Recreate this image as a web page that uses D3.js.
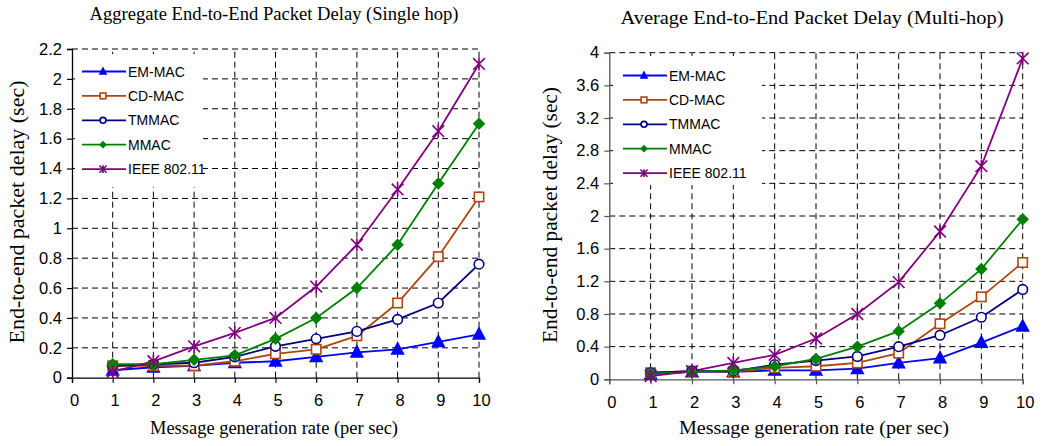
<!DOCTYPE html>
<html>
<head>
<meta charset="utf-8">
<script src="https://cdn.jsdelivr.net/npm/d3@7"></script>
<style>
  body { margin: 0; background: #fff; }
  svg { display: block; }
  .tick text { font-family: "Liberation Sans", Arial, sans-serif; }
</style>
</head>
<body>
<svg id="chart" width="1043" height="446"></svg>
<script>
// x axis: message generation rate
const rates = [1, 2, 3, 4, 5, 6, 7, 8, 9, 10];
const xTicks = [0, 1, 2, 3, 4, 5, 6, 7, 8, 9, 10];

const seriesNames = ["EM-MAC", "CD-MAC", "TMMAC", "MMAC", "IEEE 802.11"];

// single hop delays (sec)
const singleEM   = [0.05, 0.07, 0.08, 0.10, 0.11, 0.14, 0.17, 0.19, 0.24, 0.29];
const singleCD   = [0.08, 0.08, 0.08, 0.11, 0.16, 0.19, 0.28, 0.50, 0.81, 1.21];
const singleTM   = [0.08, 0.09, 0.10, 0.14, 0.21, 0.26, 0.31, 0.39, 0.50, 0.76];
const singleMM   = [0.09, 0.09, 0.12, 0.15, 0.26, 0.40, 0.60, 0.89, 1.30, 1.70];
const singleIEEE = [0.04, 0.11, 0.21, 0.30, 0.40, 0.61, 0.89, 1.26, 1.65, 2.10];
const singleTicks = [0, 0.2, 0.4, 0.6, 0.8, 1, 1.2, 1.4, 1.6, 1.8, 2, 2.2];

// multi hop delays (sec)
const multiEM   = [0.06, 0.09, 0.09, 0.11, 0.11, 0.13, 0.20, 0.26, 0.45, 0.65];
const multiCD   = [0.08, 0.10, 0.09, 0.14, 0.16, 0.20, 0.32, 0.68, 1.01, 1.43];
const multiTM   = [0.08, 0.10, 0.10, 0.18, 0.23, 0.28, 0.40, 0.54, 0.76, 1.10];
const multiMM   = [0.07, 0.09, 0.11, 0.16, 0.25, 0.40, 0.59, 0.93, 1.35, 1.96];
const multiIEEE = [0.04, 0.10, 0.20, 0.30, 0.50, 0.80, 1.19, 1.81, 2.61, 3.93];
const multiTicks = [0, 0.4, 0.8, 1.2, 1.6, 2, 2.4, 2.8, 3.2, 3.6, 4];

const colors = ["#0000ff", "#b0460f", "#000080", "#008000", "#800080"];
const markers = ["triangle", "square", "circle", "diamond", "star"];

const svg = d3.select("#chart");
const serif = "Liberation Serif, Times New Roman, serif";

function drawMarker(g, type, color, s) {
  if (type === "triangle") {
    g.append("path").attr("d", `M0,${-s * 0.62}L${s * 0.55},${s * 0.42}L${-s * 0.55},${s * 0.42}Z`)
      .attr("fill", color);
  } else if (type === "square") {
    const h = s * 0.36;
    g.append("rect").attr("x", -h).attr("y", -h).attr("width", 2 * h).attr("height", 2 * h)
      .attr("fill", "#fff").attr("stroke", color).attr("stroke-width", 1.6);
  } else if (type === "circle") {
    g.append("circle").attr("r", s * 0.37)
      .attr("fill", "#fff").attr("stroke", color).attr("stroke-width", 1.6);
  } else if (type === "diamond") {
    const h = s * 0.48;
    g.append("path").attr("d", `M0,${-h}L${h},0L0,${h}L${-h},0Z`).attr("fill", color);
  } else if (type === "star") {
    const h = s * 0.45;
    g.append("path")
      .attr("d", `M${-h},${-h}L${h},${h}M${h},${-h}L${-h},${h}M0,${-h * 1.1}L0,${h * 1.1}`)
      .attr("stroke", color).attr("stroke-width", 1.6).attr("fill", "none");
  }
}

function label(g, x, y, str, size, len, rot) {
  g.append("text")
    .attr("transform", `translate(${x},${y})` + (rot ? " rotate(-90)" : ""))
    .attr("text-anchor", "middle")
    .attr("font-family", serif).attr("font-size", size)
    .attr("textLength", len).attr("lengthAdjust", "spacingAndGlyphs")
    .text(str);
}

function drawChart(cfg) {
  const x = d3.scaleLinear().domain([0, 10]).range([cfg.left, cfg.right]);
  const y = d3.scaleLinear().domain([0, cfg.yMax]).range([cfg.bottom, cfg.top]);
  const g = svg.append("g");

  // dashed grid
  g.append("g").selectAll("line").data(cfg.yTicks.slice(1)).join("line")
    .attr("x1", cfg.left).attr("x2", cfg.right)
    .attr("y1", d => y(d)).attr("y2", d => y(d))
    .attr("stroke", "#000").attr("stroke-dasharray", "6,4");
  g.append("g").selectAll("line").data(xTicks.slice(1)).join("line")
    .attr("x1", d => x(d)).attr("x2", d => x(d))
    .attr("y1", cfg.bottom).attr("y2", cfg.top)
    .attr("stroke", "#000").attr("stroke-dasharray", "6,4");

  // legend background covers the grid
  g.append("rect").attr("x", cfg.legend.x0).attr("y", cfg.legend.y0)
    .attr("width", cfg.legend.x1 - cfg.legend.x0).attr("height", cfg.legend.y1 - cfg.legend.y0)
    .attr("fill", "#fff");

  // axes
  const yAxis = g.append("g").attr("transform", `translate(${cfg.left},0)`)
    .call(d3.axisLeft(y).tickValues(cfg.yTicks).tickFormat(d3.format("~g")).tickSizeOuter(0).tickSize(5).tickPadding(5));
  const xAxis = g.append("g").attr("transform", `translate(0,${cfg.bottom})`)
    .call(d3.axisBottom(x).tickValues(xTicks).tickFormat(d3.format("d")).tickSizeOuter(0).tickSize(5).tickPadding(12));
  [yAxis, xAxis].forEach(a => {
    a.select(".domain").attr("stroke", cfg.axisColor).attr("stroke-width", 1.3);
    a.selectAll(".tick line").attr("stroke", cfg.axisColor).attr("stroke-width", 1.2);
    a.selectAll(".tick text").attr("font-size", 16.5).attr("fill", "#000");
  });
  xAxis.selectAll(".tick text").attr("dx", 2);

  // series
  const line = d3.line().x((d, i) => x(rates[i])).y(d => y(d));
  cfg.series.forEach((vals, k) => {
    g.append("path").datum(vals).attr("d", line)
      .attr("fill", "none").attr("stroke", colors[k]).attr("stroke-width", 1.8);
  });
  cfg.series.forEach((vals, k) => {
    vals.forEach((v, i) => {
      const m = g.append("g").attr("transform", `translate(${x(rates[i])},${y(v)})`);
      drawMarker(m, markers[k], colors[k], 13);
    });
  });

  // legend
  seriesNames.forEach((name, k) => {
    const ly = cfg.legend.ry + k * 24.4;
    g.append("line").attr("x1", cfg.legend.lx).attr("x2", cfg.legend.lx + 44)
      .attr("y1", ly).attr("y2", ly).attr("stroke", colors[k]).attr("stroke-width", 1.8);
    const m = g.append("g").attr("transform", `translate(${cfg.legend.lx + 21},${ly})`);
    drawMarker(m, markers[k], colors[k], 8);
    g.append("text").attr("x", cfg.legend.lx + 46).attr("y", ly + 5)
      .attr("font-family", "Liberation Sans, Arial, sans-serif").attr("font-size", 14)
      .text(name);
  });

  // titles
  label(g, cfg.titleX, cfg.titleY, cfg.title, 18.5, cfg.titleLen, false);
  label(g, cfg.xLabelX, 434, "Message generation rate (per sec)", 19, cfg.xLabelLen, false);
  label(g, cfg.yLabelX, cfg.yLabelY, "End-to-end packet delay (sec)", 20, cfg.yLabelLen, true);
}

drawChart({
  left: 72, right: 479, top: 49, bottom: 377.7, yMax: 2.2, yTicks: singleTicks,
  series: [singleEM, singleCD, singleTM, singleMM, singleIEEE],
  axisColor: "#000",
  legend: { x0: 75, x1: 203, y0: 54, y1: 187, lx: 82, ry: 71.5 },
  title: "Aggregate End-to-End Packet Delay (Single hop)", titleX: 274, titleY: 20, titleLen: 369,
  xLabelX: 274, xLabelLen: 248, yLabelX: 24, yLabelY: 212, yLabelLen: 263
});

drawChart({
  left: 609.3, right: 1022.7, top: 52.7, bottom: 379.3, yMax: 4, yTicks: multiTicks,
  series: [multiEM, multiCD, multiTM, multiMM, multiIEEE],
  axisColor: "#555",
  legend: { x0: 613, x1: 762, y0: 56, y1: 185, lx: 623, ry: 75.5 },
  title: "Average End-to-End Packet Delay (Multi-hop)", titleX: 812, titleY: 24, titleLen: 383,
  xLabelX: 814, xLabelLen: 270, yLabelX: 557, yLabelY: 215, yLabelLen: 256
});
</script>
</body>
</html>
